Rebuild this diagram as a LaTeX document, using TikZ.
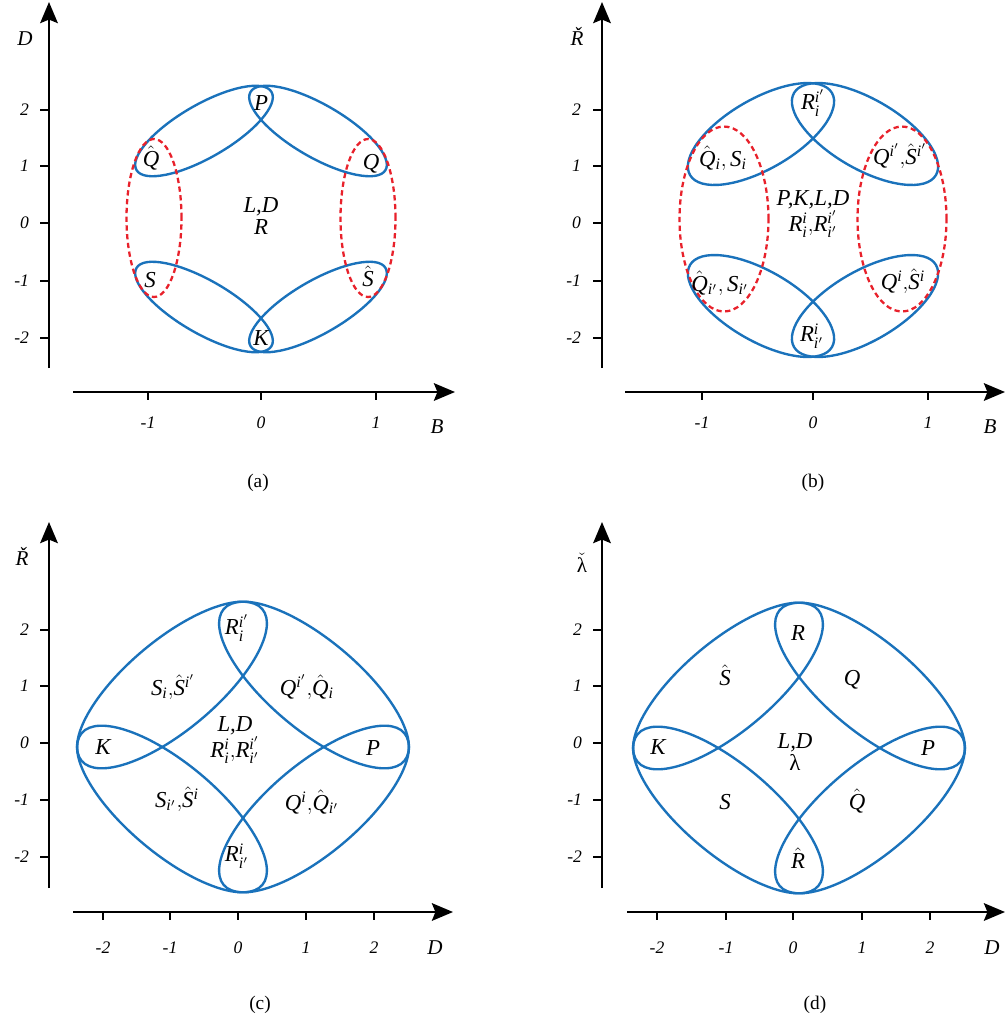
\documentclass[tikz,border=0pt]{standalone}
\usepackage{amsmath}
\usepackage{fontspec}
\setmainfont{Liberation Serif}
\usetikzlibrary{arrows.meta}
\definecolor{cbBlue}{HTML}{1A72BB}
\definecolor{cbRed}{HTML}{E8212B}

\begin{document}
\begin{tikzpicture}[x=0.02cm,y=-0.02cm,
  ax/.style={line width=1.4pt,-{Stealth[length=12pt,width=10pt,inset=2pt]}},
  tk/.style={line width=1pt},
  lp/.style={draw=cbBlue,line width=1.35pt},
  gd/.style={draw=cbRed,line width=1.3pt,dash pattern=on 3pt off 2pt},
  lb/.style={font=\fontsize{13}{13}\selectfont\itshape,inner sep=0pt,align=center},
  nm/.style={font=\fontsize{10}{11}\selectfont\itshape,inner sep=1pt},
  an/.style={font=\fontsize{12}{13}\selectfont\itshape,inner sep=0pt},
  cp/.style={font=\fontsize{11}{12}\selectfont,inner sep=0pt}]
\useasboundingbox (0,0) rectangle (1005,1022);

% (a)
\coordinate (ya0) at (49,368);  \coordinate (ya1) at (49,2);
\coordinate (xa0) at (73,392);  \coordinate (xa1) at (455,392);
\draw[ax] (ya0) -- (ya1);
\draw[ax] (xa0) -- (xa1);
\foreach \y/\t [count=\k] in {110/2,166/1,223/0,281/-1,338/-2}{
  \draw[tk] (40,\y) -- (49,\y);
  \node[nm,anchor=east] (tya\k) at (31,\y) {\t};}
\foreach \x/\t [count=\k] in {148/-1,261/0,376/1}{
  \draw[tk] (\x,392) -- (\x,400);
  \node[nm] (txa\k) at (\x,423) {\t};}
\node[an] (aD) at (25,39) {D};
\node[an] (aB) at (437,427) {B};
\foreach \cx/\cy/\ang in {204/131/30,318/131/-30,204/307/-30,318/307/30}
  \draw[lp,rotate around={\ang:(\cx,\cy)}] (\cx,\cy) ellipse [x radius=1.56cm,y radius=0.53cm];
\draw[gd] (154,218) ellipse [x radius=0.55cm,y radius=1.58cm];
\draw[gd] (368,218) ellipse [x radius=0.55cm,y radius=1.58cm];
\node[lb] (aP)  at (261,103) {P};
\node[lb] (aQh) at (151,158) {$\hat{\mathit{Q}}$};
\node[lb] (aQ)  at (371,164) {Q};
\node[lb] (aLD) at (261,216) {L,D\\R};
\node[lb] (aS)  at (150,280) {S};
\node[lb] (aSh) at (368,276) {$\hat{\mathit{S}}$};
\node[lb] (aK)  at (261,338) {K};
\node[cp] (capa) at (258,483) {(a)};

% (b)
\coordinate (yb0) at (602,368); \coordinate (yb1) at (602,2);
\coordinate (xb0) at (625,392); \coordinate (xb1) at (1005,392);
\draw[ax] (yb0) -- (yb1);
\draw[ax] (xb0) -- (xb1);
\foreach \y/\t [count=\k] in {110/2,166/1,223/0,281/-1,338/-2}{
  \draw[tk] (593,\y) -- (602,\y);
  \node[nm,anchor=east] (tyb\k) at (583,\y) {\t};}
\foreach \x/\t [count=\k] in {702/-1,813/0,928/1}{
  \draw[tk] (\x,392) -- (\x,400);
  \node[nm] (txb\k) at (\x,423) {\t};}
\node[an] (bR) at (577,36) {Ř};
\node[an] (bB) at (990,427) {B};
\foreach \cx/\cy/\ang in {761/134/30,865/134/-30,761/306/-30,865/306/30}
  \draw[lp,rotate around={\ang:(\cx,\cy)}] (\cx,\cy) ellipse [x radius=1.64cm,y radius=0.70cm];
\draw[gd] (724,219) ellipse [x radius=0.89cm,y radius=1.85cm];
\draw[gd] (902,219) ellipse [x radius=0.89cm,y radius=1.85cm];
\node[lb] (bRt) at (813,103) {$\mathit{R_i^{i'}}$};
\node[lb] (bQS1) at (723,158) {$\hat{\mathit{Q}}_{\mathit{i}},\mathit{S_i}$};
\node[lb] (bQS2) at (900,156) {$\mathit{Q^{i'}}{,}\hat{\mathit{S}}^{\mathit{i'}}$};
\node[lb] (bC) at (813,214) {P,K,L,D\\$\mathit{R_i^{i}{,}R_{i'}^{i'}}$};
\node[lb] (bQS3) at (720,283) {$\hat{\mathit{Q}}_{\mathit{i'}},\mathit{S_{i'}}$};
\node[lb] (bQS4) at (903,281) {$\mathit{Q^i}{,}\hat{\mathit{S}}^{\mathit{i}}$};
\node[lb] (bRb) at (812,336) {$\mathit{R_{i'}^{i}}$};
\node[cp] (capb) at (813,483) {(b)};

% (c)
\coordinate (yc0) at (49,888); \coordinate (yc1) at (49,522);
\coordinate (xc0) at (73,912); \coordinate (xc1) at (453,912);
\draw[ax] (yc0) -- (yc1);
\draw[ax] (xc0) -- (xc1);
\foreach \y/\t [count=\k] in {630/2,686/1,743/0,800/-1,857/-2}{
  \draw[tk] (40,\y) -- (49,\y);
  \node[nm,anchor=east] (tyc\k) at (31,\y) {\t};}
\foreach \x/\t [count=\k] in {103/-2,170/-1,238/0,306/1,374/2}{
  \draw[tk] (\x,912) -- (\x,920);
  \node[nm] (txc\k) at (\x,948) {\t};}
\node[an] (cR) at (22,556) {Ř};
\node[an] (cD) at (435,948) {D};
\foreach \cx/\cy/\ang in {172/685/40,314/685/-40,172/809/-40,314/809/40}
  \draw[lp,rotate around={\ang:(\cx,\cy)}] (\cx,\cy) ellipse [x radius=2.36cm,y radius=0.90cm];
\node[lb] (cRt) at (237,628) {$\mathit{R_i^{i'}}$};
\node[lb] (cSS1) at (173,687) {$\mathit{S_i}{,}\hat{\mathit{S}}^{\mathit{i'}}$};
\node[lb] (cQQ1) at (307,687) {$\mathit{Q^{i'}}{,}\hat{\mathit{Q}}_{\mathit{i}}$};
\node[lb] (cC) at (235,740) {L,D\\$\mathit{R_i^{i}{,}R_{i'}^{i'}}$};
\node[lb] (cK) at (103,747) {K};
\node[lb] (cP) at (373,748) {P};
\node[lb] (cSS2) at (177,799) {$\mathit{S_{i'}}{,}\hat{\mathit{S}}^{\mathit{i}}$};
\node[lb] (cQQ2) at (312,802) {$\mathit{Q^i}{,}\hat{\mathit{Q}}_{\mathit{i'}}$};
\node[lb] (cRb) at (237,856) {$\mathit{R_{i'}^{i}}$};
\node[cp] (capc) at (260,1005) {(c)};

% (d)
\coordinate (yd0) at (602,888); \coordinate (yd1) at (602,522);
\coordinate (xd0) at (627,912); \coordinate (xd1) at (1005,912);
\draw[ax] (yd0) -- (yd1);
\draw[ax] (xd0) -- (xd1);
\foreach \y/\t [count=\k] in {630/2,686/1,743/0,800/-1,857/-2}{
  \draw[tk] (593,\y) -- (602,\y);
  \node[nm,anchor=east] (tyd\k) at (584,\y) {\t};}
\foreach \x/\t [count=\k] in {657/-2,726/-1,793/0,862/1,930/2}{
  \draw[tk] (\x,912) -- (\x,920);
  \node[nm] (txd\k) at (\x,948) {\t};}
\node[an] (dl) at (582,563) {$\check{\text{\upshape λ}}$};
\node[an] (dD) at (992,948) {D};
\foreach \cx/\cy/\ang in {728/686/40,870/686/-40,728/810/-40,870/810/40}
  \draw[lp,rotate around={\ang:(\cx,\cy)}] (\cx,\cy) ellipse [x radius=2.36cm,y radius=0.90cm];
\node[lb] (dR)  at (798,633) {R};
\node[lb] (dSh) at (725,675) {$\hat{\mathit{S}}$};
\node[lb] (dQ)  at (852,680) {Q};
\node[lb] (dC)  at (795,752) {L,D\\\upshape λ};
\node[lb] (dK)  at (658,747) {K};
\node[lb] (dP)  at (928,748) {P};
\node[lb] (dS)  at (725,802) {S};
\node[lb] (dQh) at (857,801) {$\hat{\mathit{Q}}$};
\node[lb] (dRh) at (798,858) {$\hat{\mathit{R}}$};
\node[cp] (capd) at (815,1005) {(d)};
\end{tikzpicture}
\end{document}
